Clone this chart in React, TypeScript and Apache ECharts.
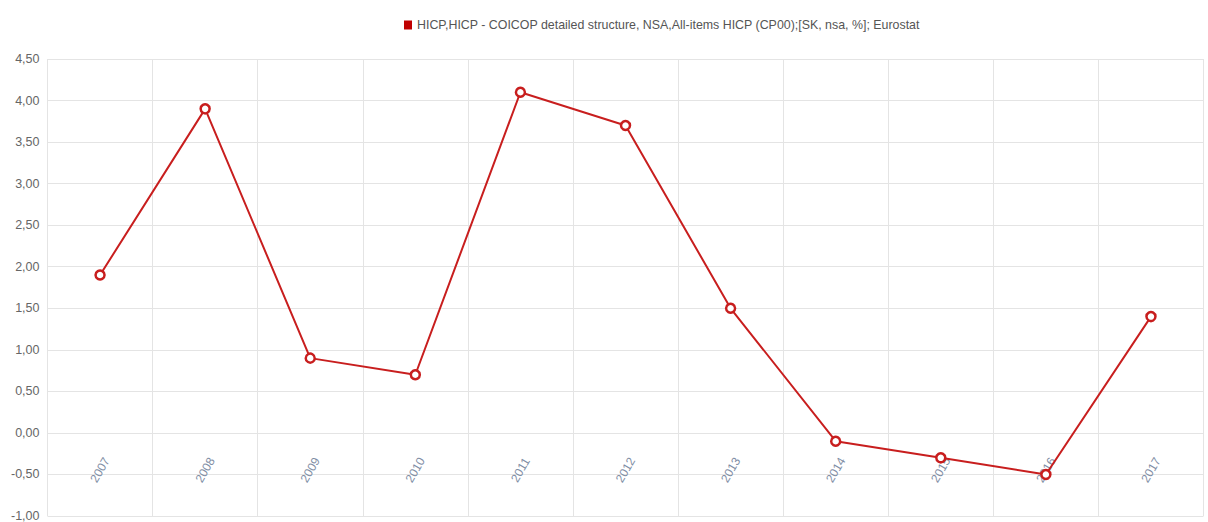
import React, { useEffect, useRef } from "react";
import * as echarts from "echarts";

const years = ["2007", "2008", "2009", "2010", "2011", "2012", "2013", "2014", "2015", "2016", "2017"];
const values = [1.9, 3.9, 0.9, 0.7, 4.1, 3.7, 1.5, -0.1, -0.3, -0.5, 1.4];
const seriesName = "HICP,HICP - COICOP detailed structure, NSA,All-items HICP (CP00);[SK, nsa, %]; Eurostat";
const yMin = -1;
const yMax = 4.5;
const yStep = 0.5;

export default function App() {
  const ref = useRef<HTMLDivElement>(null);
  useEffect(() => {
    if (!ref.current) return;
    const chart = echarts.init(ref.current, undefined, { renderer: "svg" });
    const font = "'Liberation Sans Narrow', 'Liberation Sans', Arial, sans-serif";
    chart.setOption({
      animation: false,
      backgroundColor: "#ffffff",
      legend: {
        data: [{ name: seriesName, icon: "rect", itemStyle: { color: "#c00000", borderWidth: 0 } }],
        top: 14,
        left: 399,
        itemWidth: 8,
        itemHeight: 9,
        itemGap: 6,
        textStyle: { fontFamily: font, fontSize: 12.4, color: "#555555" },
      },
      grid: { left: 47.5, right: 4.5, top: 59, bottom: 6, containLabel: false, outerBoundsMode: "none" },
      xAxis: {
        type: "category",
        data: years,
        boundaryGap: true,
        axisLine: { show: false },
        axisTick: { show: false },
        splitLine: { show: true, lineStyle: { color: "#e4e4e4", width: 1 } },
        axisLabel: {
          rotate: 60,
          align: "center",
          verticalAlign: "middle",
          margin: -46,
          fontFamily: font,
          fontSize: 12,
          color: "#7f8ea5",
        },
      },
      yAxis: {
        type: "value",
        min: yMin,
        max: yMax,
        interval: yStep,
        axisLine: { show: false },
        axisTick: { show: false },
        splitLine: { lineStyle: { color: "#e4e4e4", width: 1 } },
        axisLabel: {
          margin: 8,
          fontFamily: font,
          fontSize: 12.5,
          color: "#666666",
          formatter: (v: number) => v.toFixed(2).replace(".", ","),
        },
      },
      series: [
        {
          name: seriesName,
          type: "line",
          data: values,
          symbol: "circle",
          symbolSize: 9,
          itemStyle: { color: "#ffffff", borderColor: "#c81e1e", borderWidth: 2.5 },
          lineStyle: { color: "#c81e1e", width: 2 },
        },
      ],
    });
    return () => chart.dispose();
  }, []);
  return <div ref={ref} style={{ position: "fixed", left: 0, top: 0, width: 1208, height: 522 }} />;
}
